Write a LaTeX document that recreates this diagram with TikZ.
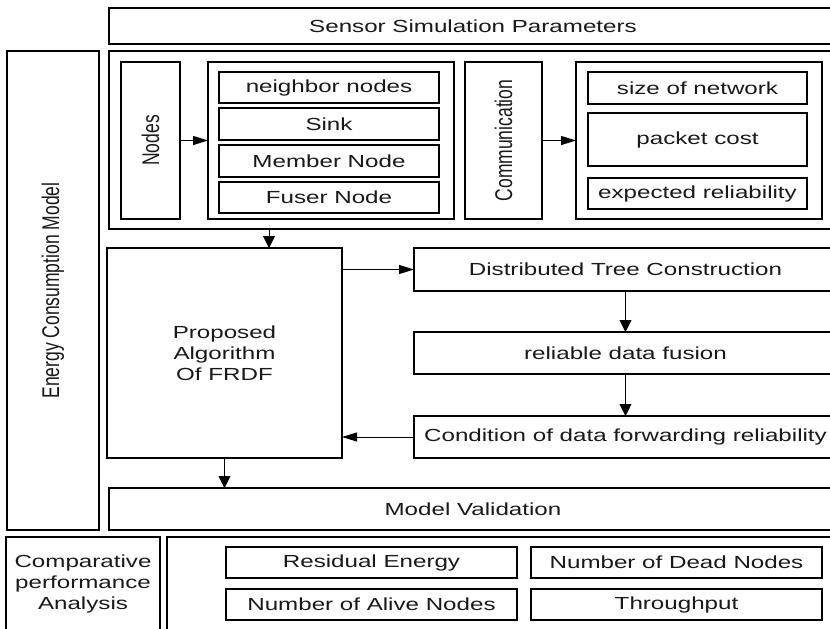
\documentclass[tikz,border=0pt]{standalone}
\usepackage{fontspec}
\usetikzlibrary{arrows.meta}
\newfontfamily\mainf[FakeStretch=1.38]{Liberation Sans}
\newfontfamily\rotf[FakeStretch=0.725]{Liberation Sans}
\newcommand{\rottext}[1]{\rotatebox{90}{\rotf\fontsize{24.15}{29}\selectfont #1}}
\begin{document}
\begin{tikzpicture}[x=1pt,y=-1pt,
  box/.style={draw=black, line width=1.8pt, anchor=north west, inner sep=0pt, outer sep=0pt,
    align=center, font=\mainf\fontsize{17.5}{21}\selectfont, text=black!90},
  conn/.style={draw=black, line width=0.9pt},
  harr/.style={conn, -{Triangle[length=15pt,width=9pt]}},
  varr/.style={conn, -{Triangle[length=12pt,width=12pt]}}]
\useasboundingbox (0,0) rectangle (830,629);
\clip (0,0) rectangle (830,629);
\fill[white] (0,0) rectangle (830,629);
% top row
\node[box, minimum width=728pt, minimum height=36pt] (top) at (109,8) {Sensor Simulation Parameters};
\node[box, minimum width=92pt, minimum height=479pt] (ecm) at (7,51) {\rottext{Energy Consumption Model}};
\node[box, minimum width=728pt, minimum height=178pt] (params) at (109,51) {};
\node[box, minimum width=59pt, minimum height=157pt] (nodesb) at (121,62) {\rottext{Nodes}};
\node[box, minimum width=246pt, minimum height=157pt] (ngroup) at (208,62) {};
\node[box, minimum width=220pt, minimum height=31pt] (neigh) at (219,72) {neighbor nodes};
\node[box, minimum width=220pt, minimum height=32pt] (sink) at (219,108) {Sink};
\node[box, minimum width=220pt, minimum height=32pt] (member) at (219,145) {Member Node};
\node[box, minimum width=220pt, minimum height=31pt] (fuser) at (219,182) {Fuser Node};
\node[box, minimum width=77pt, minimum height=157pt] (comm) at (465,62) {\rottext{Communication}};
\node[box, minimum width=246pt, minimum height=157pt] (rgroup) at (576,62) {};
\node[box, minimum width=219pt, minimum height=32pt] (size) at (588,72) {size of network};
\node[box, minimum width=219pt, minimum height=53pt] (packet) at (588,113) {packet cost};
\node[box, minimum width=219pt, minimum height=31pt] (expect) at (588,178) {expected reliability};
% middle
\node[box, minimum width=235pt, minimum height=210pt] (alg) at (107,248) {Proposed\\Algorithm\\Of FRDF};
\node[box, minimum width=423pt, minimum height=43pt] (dist) at (414,248) {Distributed Tree Construction};
\node[box, minimum width=423pt, minimum height=42pt] (rel) at (414,332) {reliable data fusion};
\node[box, minimum width=423pt, minimum height=42pt] (cond) at (414,416) {Condition of data forwarding reliability};
\node[box, minimum width=728pt, minimum height=42pt] (mv) at (109,488) {Model Validation};
% bottom
\node[box, minimum width=154pt, minimum height=94pt] (comp) at (6,537) {Comparative\\performance\\Analysis};
\node[box, minimum width=720pt, minimum height=94pt] (results) at (167,537) {};
\node[box, minimum width=291pt, minimum height=31pt] (resid) at (226,547) {Residual Energy};
\node[box, minimum width=291pt, minimum height=31pt] (alive) at (226,589) {Number of Alive Nodes};
\node[box, minimum width=291pt, minimum height=31pt] (dead) at (531,547) {Number of Dead Nodes};
\node[box, minimum width=291pt, minimum height=31pt] (thr) at (531,589) {Throughput};
% connectors
\coordinate (c1) at (269,0);
\draw[harr] (nodesb.east) -- (ngroup.west);
\draw[harr] (comm.east) -- (rgroup.west);
\draw[varr] (c1 |- params.south) -- (c1 |- alg.north);
\draw[harr] (alg.east |- dist.west) -- (dist.west);
\draw[varr] (dist.south) -- (rel.north);
\draw[varr] (rel.south) -- (cond.north);
\draw[harr] (cond.west) -- (alg.east |- cond.west);
\draw[varr] (alg.south) -- (alg.south |- mv.north);
\end{tikzpicture}
\end{document}
